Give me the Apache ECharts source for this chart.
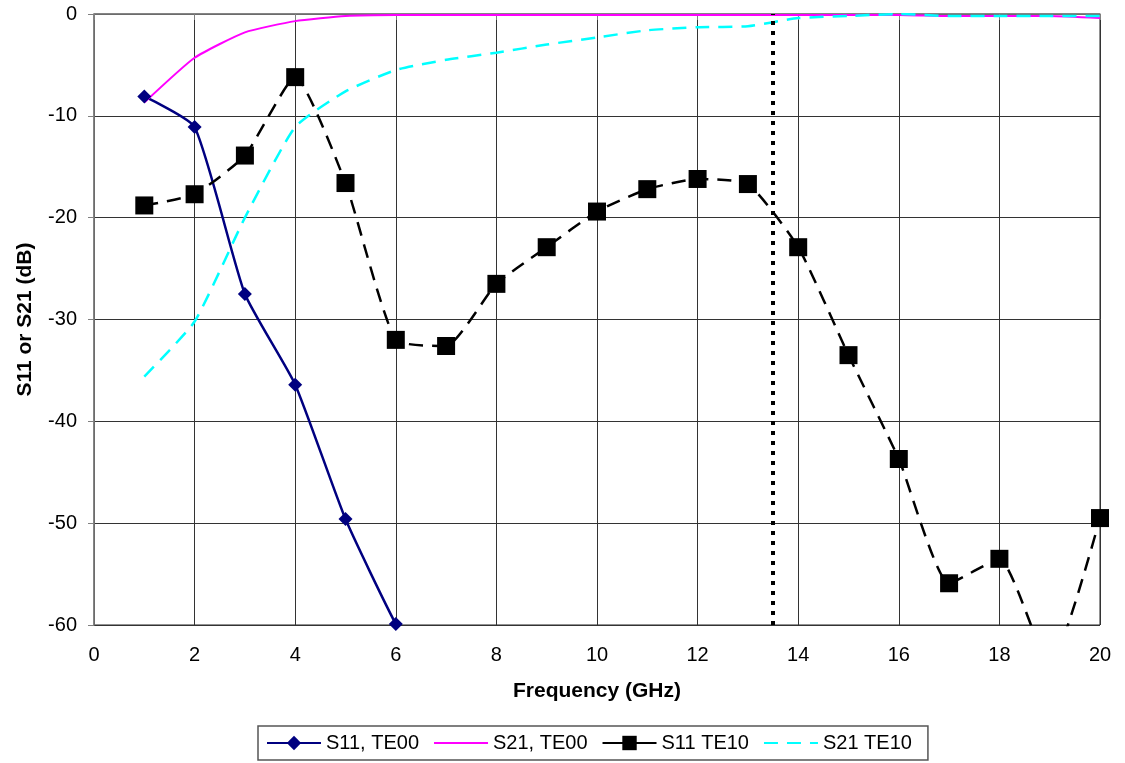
<!DOCTYPE html>
<html><head><meta charset="utf-8">
<script src="https://cdn.jsdelivr.net/npm/echarts@6/dist/echarts.min.js"></script>
<style>html,body{margin:0;padding:0;background:#fff}#c{width:1125px;height:763px}</style>
</head><body><div id="c"></div>
<script>
const freq = [1,2,3,4,5,6,7,8,9,10,11,12,13,14,15,16,17,18,19,20];
const s11TE00 = [-8.1,-11.1,-27.5,-36.4,-49.6,-59.9,-68];
const s21TE00 = [-8.7,-4.3,-1.8,-0.7,-0.2,-0.1,-0.1,-0.1,-0.1,-0.1,-0.1,-0.1,-0.1,-0.1,-0.1,-0.1,-0.2,-0.2,-0.2,-0.4];
const s11TE10 = [-18.8,-17.7,-13.9,-6.2,-16.6,-32.0,-32.6,-26.5,-22.9,-19.4,-17.2,-16.2,-16.7,-22.9,-33.5,-43.7,-55.9,-53.5,-64,-49.5];
const s21TE10 = [-35.6,-30.2,-20.0,-11.1,-7.6,-5.5,-4.5,-3.8,-3.0,-2.3,-1.6,-1.3,-1.2,-0.4,-0.2,0,-0.2,-0.2,-0.2,-0.2];
const cutoff = 13.5;
const xTicks = {min:0,max:20,interval:2};
const yTicks = {min:-60,max:0,interval:10};
const pairs = (ys) => ys.map((y,i)=>[freq[i],y]);
const FONT = 'Liberation Sans, Arial, sans-serif';
const SM = 0.17;
const chart = echarts.init(document.getElementById('c'));
chart.setOption({
  animation:false,
  grid:{left:94,right:25,top:14,bottom:138,outerBoundsMode:'none',containLabel:false,
    show:true,borderColor:'#222',borderWidth:1},
  xAxis:{type:'value',min:xTicks.min,max:xTicks.max,interval:xTicks.interval,
    name:'Frequency (GHz)',nameLocation:'middle',nameGap:56,
    nameTextStyle:{fontFamily:FONT,fontWeight:'bold',fontSize:21,color:'#000'},
    axisLine:{lineStyle:{color:'#808080',width:1.5}},
    axisTick:{show:true,length:6,inside:false,lineStyle:{color:'#808080'}},
    axisLabel:{fontFamily:FONT,fontSize:20,color:'#000',margin:20},
    splitLine:{show:true,lineStyle:{color:'#333',width:1}}},
  yAxis:{type:'value',min:yTicks.min,max:yTicks.max,interval:yTicks.interval,
    name:'S11 or S21 (dB)',nameLocation:'middle',nameGap:58,nameRotate:90,
    nameTextStyle:{fontFamily:FONT,fontWeight:'bold',fontSize:21,color:'#000'},
    axisLine:{show:true,onZero:false,lineStyle:{color:'#808080',width:1.5}},
    axisTick:{show:true,length:6,lineStyle:{color:'#808080'}},
    axisLabel:{fontFamily:FONT,fontSize:20,color:'#000',margin:17},
    splitLine:{show:true,lineStyle:{color:'#333',width:1}}},
  legend:{bottom:3,left:258,itemGap:14,itemWidth:54,itemHeight:18,
    borderColor:'#555',borderWidth:1.5,padding:[7,16,7,8],
    textStyle:{fontFamily:FONT,fontSize:20,color:'#000'},
    data:[
      {name:'S11, TE00'},
      {name:'S21, TE00',itemStyle:{opacity:0}},
      {name:'S11 TE10',lineStyle:{type:'solid'}},
      {name:'S21 TE10',itemStyle:{opacity:0}}
    ]},
  series:[
    {name:'S11, TE00',type:'line',data:pairs(s11TE00),smooth:SM,clip:true,
      symbol:'diamond',symbolSize:14,itemStyle:{color:'#000080'},
      lineStyle:{color:'#000080',width:2.5}},
    {name:'S21, TE00',type:'line',data:pairs(s21TE00),smooth:SM,clip:true,
      symbol:'none',itemStyle:{color:'#ff00ff'},lineStyle:{color:'#ff00ff',width:2}},
    {name:'S11 TE10',type:'line',data:pairs(s11TE10),smooth:SM,clip:true,
      symbol:'rect',symbolSize:18,itemStyle:{color:'#000'},
      lineStyle:{color:'#000',width:2.5,type:[14,9]},
      markLine:{silent:true,symbol:['none','none'],label:{show:false},
        lineStyle:{color:'#000',width:4,type:[4,6]},
        data:[{xAxis:cutoff}]}},
    {name:'S21 TE10',type:'line',data:pairs(s21TE10),smooth:SM,clip:true,
      symbol:'none',itemStyle:{color:'#00ffff'},lineStyle:{color:'#00ffff',width:2.5,type:[14,9]}}
  ]
});
</script></body></html>
